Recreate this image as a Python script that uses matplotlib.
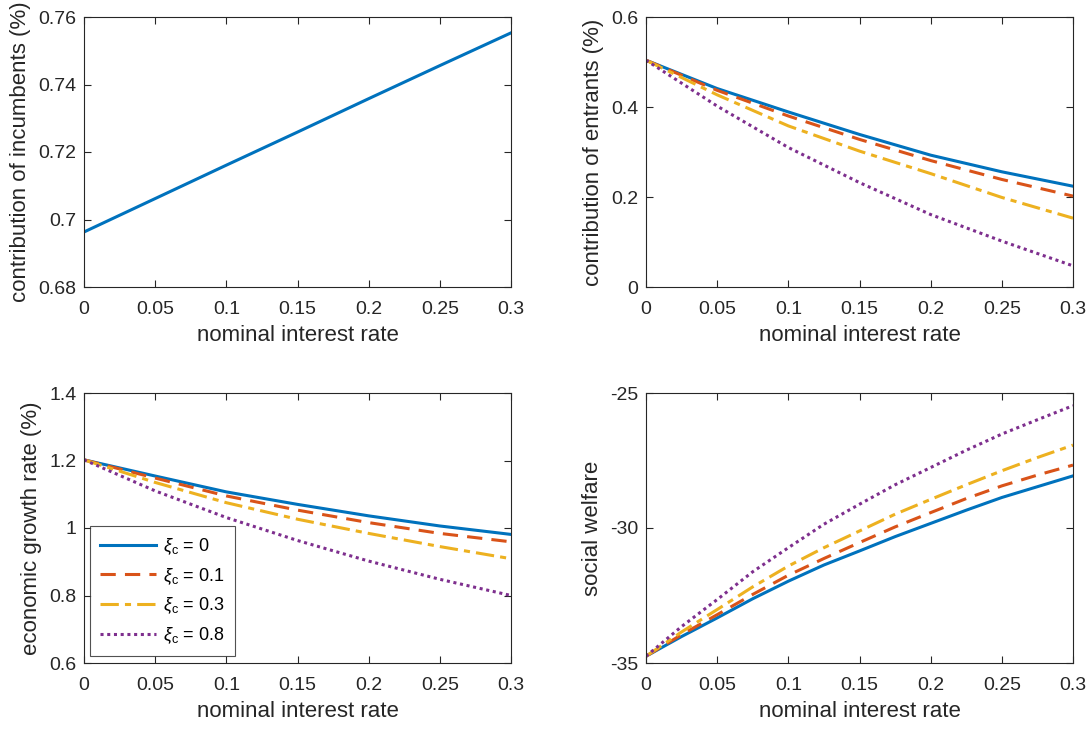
import numpy as np
import matplotlib
matplotlib.use("Agg")
from matplotlib import pyplot as plt
from matplotlib.ticker import FuncFormatter

plt.rcParams['font.family'] = ['Liberation Sans', 'DejaVu Sans']
plt.rcParams['axes.unicode_minus'] = False
plt.rcParams['mathtext.fontset'] = 'custom'
plt.rcParams['mathtext.it'] = 'Liberation Sans:italic'
plt.rcParams['mathtext.rm'] = 'Liberation Sans'

# nominal interest rate
rate = [0, 0.05, 0.1, 0.15, 0.2, 0.25, 0.3]
rate_fine = [0, 0.025, 0.05, 0.075, 0.1, 0.125, 0.15, 0.175, 0.2, 0.225, 0.25, 0.275, 0.3]

# contribution of incumbents (%)
incumbents = [0.6963, 0.7062, 0.7161, 0.7259, 0.7358, 0.7456, 0.7553]

# contribution of entrants (%), one list per xi_c
entrants_0 = [0.504, 0.441, 0.389, 0.339, 0.293, 0.256, 0.224]
entrants_01 = [0.504, 0.437, 0.380, 0.328, 0.281, 0.239, 0.202]
entrants_03 = [0.504, 0.427, 0.358, 0.302, 0.252, 0.199, 0.153]
entrants_08 = [0.504, 0.402, 0.310, 0.232, 0.161, 0.102, 0.047]

# economic growth rate (%)
growth_0 = [1.202, 1.154, 1.107, 1.070, 1.036, 1.006, 0.981]
growth_01 = [1.202, 1.148, 1.095, 1.053, 1.016, 0.984, 0.959]
growth_03 = [1.202, 1.135, 1.075, 1.026, 0.984, 0.945, 0.909]
growth_08 = [1.202, 1.110, 1.031, 0.963, 0.902, 0.848, 0.800]

# social welfare (read at rate_fine)
welfare_0 = [-34.75, -34.02, -33.33, -32.62, -31.97, -31.37, -30.85,
             -30.32, -29.83, -29.34, -28.87, -28.47, -28.07]
welfare_01 = [-34.75, -33.95, -33.21, -32.46, -31.75, -31.13, -30.54,
              -29.96, -29.43, -28.91, -28.44, -28.04, -27.67]
welfare_03 = [-34.75, -33.85, -33.02, -32.18, -31.41, -30.73, -30.11,
              -29.49, -28.94, -28.40, -27.88, -27.39, -26.93]
welfare_08 = [-34.75, -33.65, -32.65, -31.62, -30.73, -29.86, -29.12,
              -28.40, -27.76, -27.12, -26.52, -25.99, -25.47]

labels = [r'$\xi_\mathrm{c}$ = 0', r'$\xi_\mathrm{c}$ = 0.1',
          r'$\xi_\mathrm{c}$ = 0.3', r'$\xi_\mathrm{c}$ = 0.8']
colors = ['#0072BD', '#D95319', '#EDB120', '#7E2F8E']
styles = ['-', (0, (5, 3)), (0, (6, 2, 2, 2)), (0, (1, 1.2))]

fig = plt.figure(figsize=(10.91, 7.29), dpi=100)
W, H = 1091, 729
boxes = [(84, 17, 427, 270), (646, 17, 427, 270),
         (84, 393, 427, 270), (646, 393, 427, 270)]
axs = [fig.add_axes([x / W, 1 - (y + h) / H, w / W, h / H]) for x, y, w, h in boxes]

g = FuncFormatter(lambda v, p: '%g' % round(v, 6))


def style_ax(ax, ylabel, ylim, yticks):
    ax.set_xlim(0, 0.3)
    ax.set_ylim(*ylim)
    ax.set_xticks(rate)
    ax.set_yticks(yticks)
    ax.xaxis.set_major_formatter(g)
    ax.yaxis.set_major_formatter(g)
    ax.tick_params(direction='in', top=True, right=True, length=5,
                   labelsize=14, colors='#262626', width=0.8)
    ax.tick_params(axis='x', pad=10)
    ax.tick_params(axis='y', pad=5.5)
    for s in ax.spines.values():
        s.set_color('#262626')
        s.set_linewidth(0.8)
    ax.set_xlabel('nominal interest rate', fontsize=16, color='#262626', labelpad=5)
    ax.set_ylabel(ylabel, fontsize=16, color='#262626', labelpad=5)


axs[0].plot(rate, incumbents, color=colors[0], lw=2.2)
style_ax(axs[0], 'contribution of incumbents (%)', (0.68, 0.76),
         [0.68, 0.70, 0.72, 0.74, 0.76])

for series, c, ls, lab in zip([entrants_0, entrants_01, entrants_03, entrants_08],
                              colors, styles, labels):
    axs[1].plot(rate, series, color=c, ls=ls, lw=2.2, label=lab)
style_ax(axs[1], 'contribution of entrants (%)', (0, 0.6), [0, 0.2, 0.4, 0.6])

for series, c, ls, lab in zip([growth_0, growth_01, growth_03, growth_08],
                              colors, styles, labels):
    axs[2].plot(rate, series, color=c, ls=ls, lw=2.2, label=lab)
style_ax(axs[2], 'economic growth rate (%)', (0.6, 1.4), [0.6, 0.8, 1.0, 1.2, 1.4])

for series, c, ls, lab in zip([welfare_0, welfare_01, welfare_03, welfare_08],
                              colors, styles, labels):
    axs[3].plot(rate_fine, series, color=c, ls=ls, lw=2.2, label=lab)
style_ax(axs[3], 'social welfare', (-35, -25), [-35, -30, -25])

# legend only in the growth panel, like the original
leg = axs[2].legend(loc='lower left', bbox_to_anchor=(0.014, 0.026), borderaxespad=0,
                    fontsize=13, fancybox=False, edgecolor='#262626',
                    handlelength=3.1, labelspacing=0.5, handletextpad=0.4,
                    borderpad=0.55)
leg.get_frame().set_linewidth(0.8)

fig.savefig('out.png', dpi=100)
